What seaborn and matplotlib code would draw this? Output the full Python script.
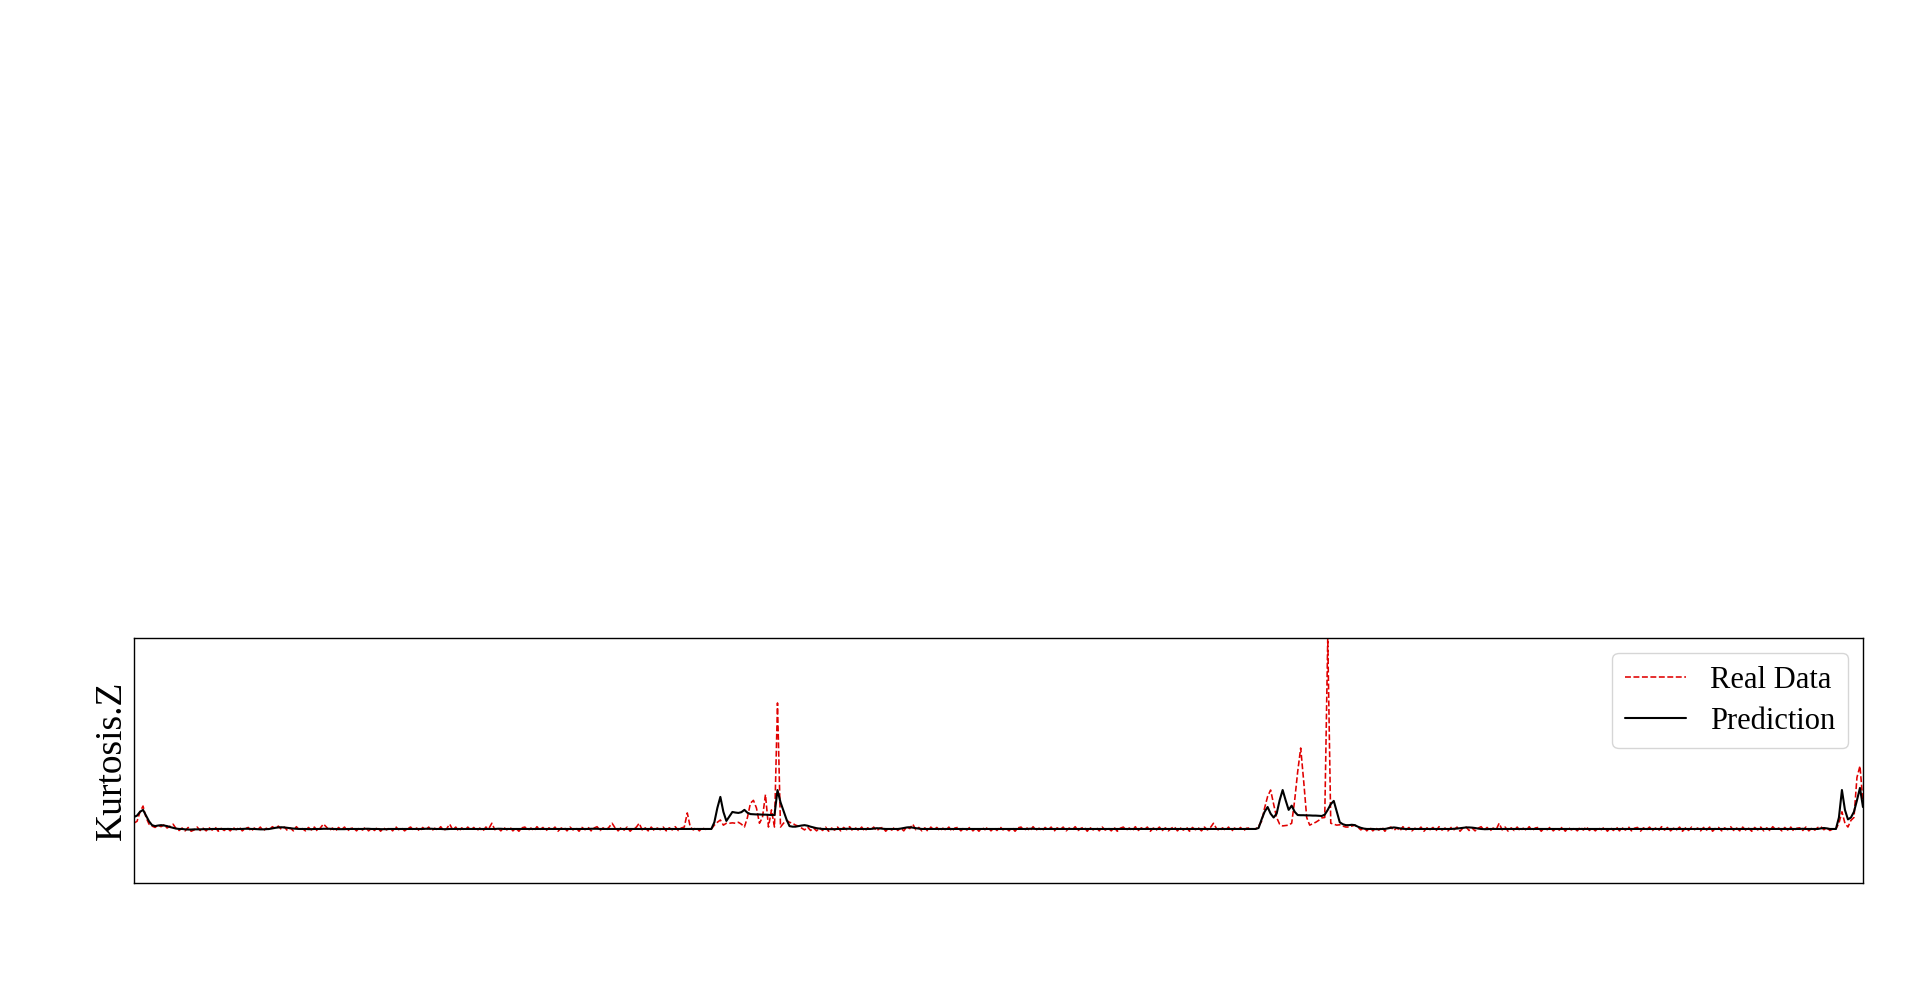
import matplotlib
matplotlib.use("Agg")
import matplotlib.pyplot as plt
import pandas as pd
import seaborn as sns

# Kurtosis.Z values, one sample per ~3 px of axis width.
# Each series is kept in segments: start, flat, spike 1, flat, spike 2, flat, end.

# --- Prediction (black, solid) ---
pred_start = [0.63, 0.7, 0.9, 1.0, 0.7, 0.4, 0.2, 0.15, 0.18, 0.2, 0.18, 0.15, 0.1, 0.06, 0.02, 0.0]
pred_flat1 = [
    0, -.02, -.03, -.03, -.02, -.02, -.02, -.01, -.01, -.01, 0, 0, 0, 0, 0, 0,
    0, -.01, -.01, 0, 0, .01, .01, 0, 0, -.01, -.02, -.02, -.01, 0, .03, .06,
    .08, .09, .08, .06, .04, .02, .01, 0, 0, 0, -.01, -.01, 0, 0, 0, .01,
    .01, .01, 0, 0, -.01, -.01, -.01, 0, 0, 0, 0, 0, 0, .01, .01, 0,
    0, 0, -.01, -.01, -.01, 0, 0, 0, 0, 0, 0, 0, 0, 0, 0, 0,
    0, .01, .01, .01, 0, 0, 0, -.01, -.01, 0, 0, 0, 0, 0, 0, 0,
    0, 0, 0, 0, 0, 0, 0, 0, 0, .01, .01, 0, 0, 0, 0, 0,
    0, 0, 0, 0, 0, 0, 0, 0, 0, 0, 0, 0, 0, 0, 0, 0,
    0, 0, 0, 0, 0, 0, 0, 0, .01, .01, .01, 0, 0, 0, 0, 0,
    0, 0, 0, 0, 0, 0, 0, 0, 0, 0, 0, 0, 0, 0, 0, 0,
    0, 0, 0, 0, 0, 0, 0, 0, 0, 0, 0, 0, 0, 0, 0, 0,
]
pred_spike1 = [0.0, 0.35, 1.1, 1.68, 0.9, 0.42, 0.65, 0.89, 0.86, 0.84, 0.88, 1.0, 0.85,
               0.78, 0.77, 0.76, 0.76, 0.75, 0.75, 0.74, 0.73, 0.73, 2.04, 1.4, 0.95,
               0.5, 0.15, 0.12, 0.12, 0.15, 0.18, 0.2, 0.17, 0.12, 0.08, 0.04, 0.02]
pred_flat2 = [
    0, 0, -.01, -.01, -.01, 0, 0, 0, .01, .01, 0, 0, 0, 0, 0, 0,
    0, .02, .04, .03, .01, 0, 0, 0, 0, 0, .02, .05, .08, .09, .07, .04,
    .02, 0, 0, 0, 0, 0, 0, 0, 0, 0, 0, 0, 0, 0, 0, 0,
    0, 0, 0, 0, 0, 0, 0, 0, 0, 0, 0, 0, 0, 0, 0, 0,
    0, 0, 0, 0, 0, .01, .01, 0, 0, 0, 0, 0, 0, 0, 0, 0,
    0, 0, 0, 0, 0, 0, 0, 0, 0, 0, 0, 0, 0, 0, 0, 0,
    0, 0, 0, 0, 0, 0, 0, 0, 0, 0, 0, 0, 0, 0, 0, 0,
    0, 0, 0, 0, 0, 0, 0, 0, 0, 0, 0, 0, 0, 0, 0, 0,
    0, 0, 0, 0, 0, 0, 0, 0, 0, 0, 0, 0, 0, 0, 0, 0,
]
pred_spike2 = [0.0, 0.05, 0.5, 0.9, 1.15, 0.8, 0.6, 0.8, 1.5, 2.04, 1.5, 1.0, 1.22, 0.9,
               0.73, 0.72, 0.72, 0.71, 0.71, 0.7, 0.7, 0.69, 0.68, 0.75, 1.0, 1.3, 1.47,
               0.9, 0.35, 0.25, 0.2, 0.2, 0.22, 0.2, 0.12, 0.06, 0.02, 0.0]
pred_flat3 = [
    0, 0, -.01, -.01, 0, 0, .03, .06, .08, .06, .03, .01, 0, 0, 0, 0,
    0, 0, 0, 0, 0, 0, 0, 0, 0, 0, 0, 0, .01, .02, .04, .06,
    .08, .08, .07, .05, .02, 0, -.01, -.01, 0, 0, 0, 0, 0, 0, 0, 0,
    0, 0, 0, 0, 0, 0, 0, 0, 0, 0, 0, 0, 0, 0, 0, 0,
    0, 0, 0, 0, 0, 0, 0, 0, 0, 0, 0, 0, 0, 0, 0, 0,
    0, 0, 0, 0, 0, 0, 0, 0, 0, 0, 0, 0, 0, 0, 0, 0,
    0, 0, 0, 0, 0, 0, 0, 0, 0, 0, 0, 0, 0, 0, 0, 0,
    0, 0, 0, 0, 0, 0, 0, 0, 0, 0, 0, 0, 0, 0, 0, 0,
    0, 0, 0, 0, 0, 0, 0, 0, 0, 0, 0, 0, 0, 0, 0, 0,
    .01, 0, 0, 0, 0, 0, .03, .05, .03, 0, 0,
]
pred_end = [0.0, 0.6, 2.04, 1.0, 0.5, 0.6, 0.9, 1.5, 2.15, 1.15]

# --- Real Data (red, dashed) ---
real_start = [0.31, 0.4, 0.9, 1.2, 0.6, 0.25, 0.15, 0.08, 0.2, 0.12, 0.22, 0.05, 0.15, 0.25, 0.02, -0.08]
real_flat1 = [
    .05, -.1, .08, -.12, -.05, .1, -.08, .04, -.1, .06, -.06, .1, -.12, .03, -.08, .05,
    -.1, .07, -.04, .1, -.1, .02, .08, -.12, .05, -.06, .1, -.1, .04, -.05, .12, .02,
    .15, -.02, .1, -.08, .05, -.1, .12, -.06, .02, -.1, .08, -.05, .1, -.12, .06, .26,
    .1, -.08, .05, -.12, .08, -.04, .1, -.1, .02, .06, -.1, .08, -.06, .1, -.1, .04,
    -.08, .1, -.12, .05, -.05, .08, -.1, .12, -.04, .06, -.1, .03, .1, -.08, .05, -.12,
    .08, -.05, .1, -.1, .04, -.06, .12, -.08, .02, .25, -.05, .1, -.12, .06, -.08, .1,
    -.06, .08, -.1, .05, -.12, .1, .02, .3, -.04, .06, -.1, .08, -.05, .1, -.1, .04,
    -.12, .06, .1, -.08, .05, -.1, .12, -.04, .08, -.1, .06, -.06, .1, -.12, .04, .08,
    -.1, .1, -.05, .06, -.12, .08, -.04, .1, -.1, .05, .12, -.08, .06, -.06, .1, .3,
    .05, -.1, .08, -.06, .1, -.12, .04, .08, .3, -.05, .06, -.1, .1, -.08, .05, -.04,
    .1, -.1, .06, -.05, .12, -.08, .05, .1, .84, .1, -.05, .08, -.1, .06, -.02, 0,
]
real_spike1 = [0.0, 0.2, 0.35, 0.47, 0.2, 0.3, 0.3, 0.32, 0.3, 0.35, 0.25, 0.1, 0.6, 1.35,
               1.5, 1.1, 0.3, 0.6, 1.8, 0.1, 1.0, 0.1, 6.6, 0.1, 0.3, 0.45, 0.35, 0.3,
               0.2, 0.15, 0.05, -0.05, 0.1, -0.08, 0.05, -0.1, 0.06]
real_flat2 = [
    -.08, .1, -.12, .05, -.06, .1, -.1, .08, -.04, .12, -.1, .05, -.08, .1, -.12, .06,
    -.05, .1, -.1, .04, .08, -.12, .06, -.06, .1, -.08, .05, -.1, .12, .02, .25, -.04,
    .08, -.1, .06, -.12, .1, -.05, .08, -.1, .04, -.06, .1, -.12, .05, .08, -.1, .06,
    -.06, .1, -.1, .05, -.12, .08, -.04, .1, -.1, .06, -.08, .12, -.05, .04, -.1, .08,
    -.12, .06, .1, -.08, .05, -.1, .12, -.06, .04, -.1, .08, -.05, .1, -.12, .06, -.04,
    .1, -.1, .05, -.06, .12, -.08, .04, .1, -.12, .06, -.05, .08, -.1, .1, -.06, .05,
    -.1, .08, -.12, .04, .1, -.06, .05, -.1, .12, -.08, .06, -.04, .1, -.12, .05, -.06,
    .1, -.08, .06, -.1, .04, .12, -.1, .05, -.06, .1, -.12, .08, -.04, .06, -.1, .1,
    -.05, .08, .3, .02, -.1, .06, -.08, .1, -.12, .05, -.06, .08, -.1, .04, .05, 0,
]
real_spike2 = [0.0, 0.15, 0.4, 1.1, 1.7, 2.04, 1.3, 0.6, 0.25, 0.16, 0.18, 0.2, 0.3, 1.5,
               3.0, 4.24, 2.5, 0.6, 0.2, 0.28, 0.35, 0.45, 0.58, 0.6, 10.0, 0.3, 0.25,
               0.2, 0.22, 0.15, 0.1, 0.1, 0.15, 0.2, 0.1, -0.05, 0.08, -0.1]
real_flat3 = [
    .08, -.1, .05, -.06, .1, -.12, .04, .1, -.08, .06, -.1, .12, -.05, .08, -.1, .04,
    -.06, .1, -.12, .06, -.04, .08, -.1, .12, -.06, .05, -.1, .08, -.04, .1, -.12, .06,
    .1, -.08, .05, -.1, .04, .12, -.06, .08, -.1, .05, -.04, .3, -.05, .1, -.12, .06,
    -.08, .1, -.1, .04, -.06, .12, -.1, .05, .08, -.12, .06, -.04, .1, -.1, .05, -.06,
    .1, -.12, .08, -.05, .04, -.1, .1, -.06, .12, -.08, .05, -.1, .06, -.04, .1, -.12,
    .06, -.08, .1, -.1, .05, -.06, .12, -.1, .04, .08, -.12, .06, -.05, .1, -.08, .05,
    -.1, .12, -.06, .08, -.1, .04, -.05, .1, -.12, .06, -.08, .1, -.04, .05, -.1, .08,
    -.06, .1, -.12, .05, .08, -.1, .06, -.04, .12, -.08, .05, -.1, .1, -.06, .04, -.12,
    .08, -.05, .1, -.1, .06, -.08, .12, -.04, .05, -.1, .08, -.06, .1, -.12, .04, .06,
    -.08, .1, -.1, .05, -.06, .08, .12, -.04, .06, -.08, 0,
]
real_end = [0.0, 0.3, 0.9, 0.3, 0.1, 0.45, 0.6, 2.7, 3.3, 1.4]

prediction = pred_start + pred_flat1 + pred_spike1 + pred_flat2 + pred_spike2 + pred_flat3 + pred_end
real_data = real_start + real_flat1 + real_spike1 + real_flat2 + real_spike2 + real_flat3 + real_end

df = pd.DataFrame({
    "step": range(len(real_data)),
    "Real Data": real_data,
    "Prediction": prediction,
})

sns.set_theme(style="white")
plt.rcParams["font.family"] = ["Liberation Serif", "DejaVu Serif"]
plt.rcParams["text.color"] = "black"
plt.rcParams["axes.labelcolor"] = "black"

fig = plt.figure(figsize=(19.2, 9.81), dpi=100)
ax = fig.add_axes([0.0698, 0.0999, 0.9005, 0.2497])

sns.lineplot(data=df, x="step", y="Real Data", ax=ax, color="#e00000",
             linestyle="--", linewidth=1.15, label="Real Data")
sns.lineplot(data=df, x="step", y="Prediction", ax=ax, color="black",
             linewidth=1.5, label="Prediction")

ax.set_xlim(0, len(real_data) - 1)
ax.set_ylim(-2.83, 10)
ax.set_xticks([])
ax.set_yticks([])
ax.set_xlabel("")
ax.set_ylabel("Kurtosis.Z", fontsize=27, color="black")
for spine in ax.spines.values():
    spine.set_color("black")
    spine.set_linewidth(1.0)

ax.legend(loc="upper right", fontsize=22, labelspacing=0.4)

fig.savefig("out.png", dpi=100)
